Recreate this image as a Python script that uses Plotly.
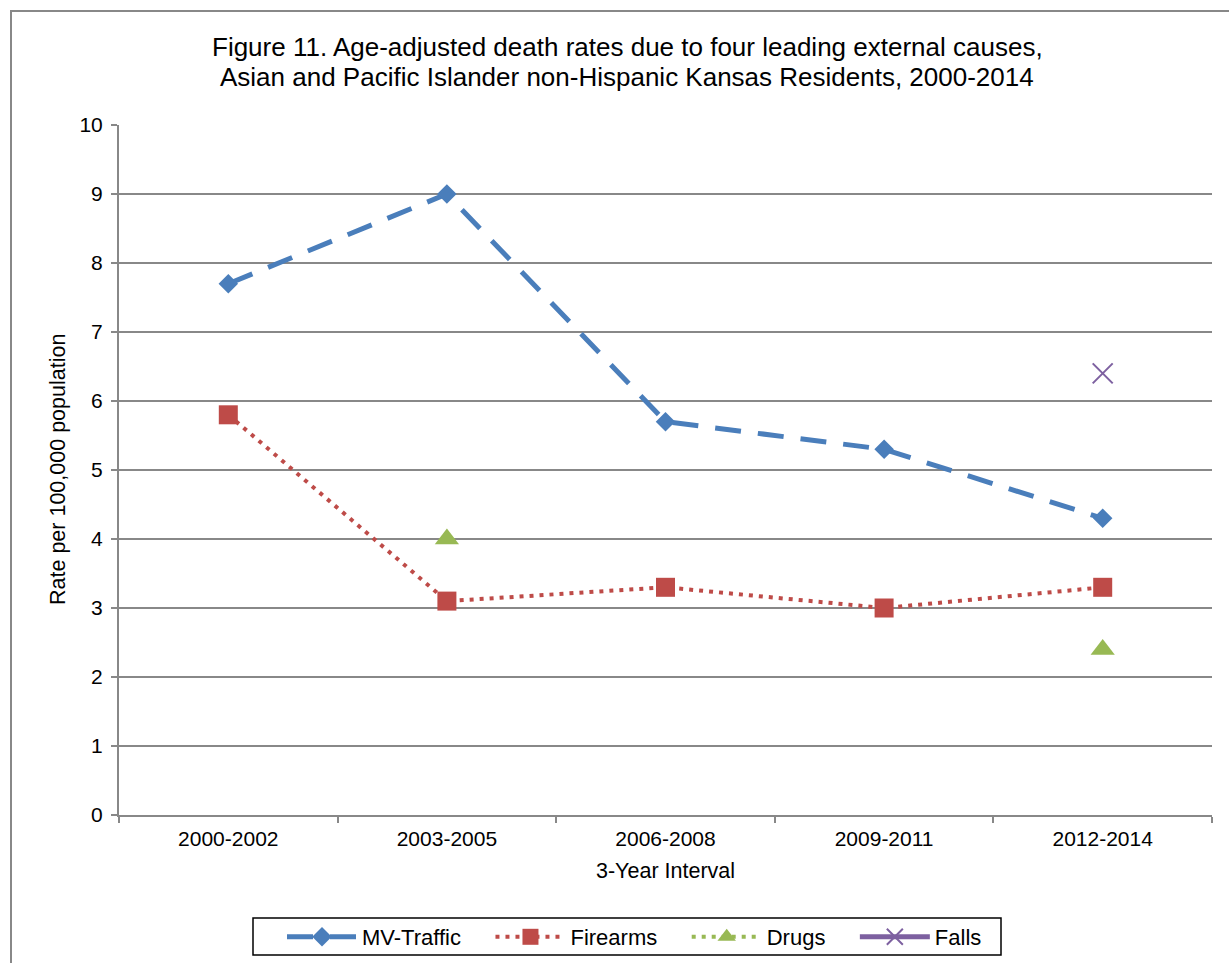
import plotly.graph_objects as go

# Three-year intervals on the x axis
intervals = ["2000-2002", "2003-2005", "2006-2008", "2009-2011", "2012-2014"]

# Age-adjusted death rates per 100,000 population
mv_traffic = [7.7, 9.0, 5.7, 5.3, 4.3]
firearms = [5.8, 3.1, 3.3, 3.0, 3.3]
drugs = [None, 4.0, None, None, 2.4]
falls = [None, None, None, None, 6.4]

y_ticks = list(range(0, 11))

title_lines = [
    "Figure 11. Age-adjusted death rates due to four leading external causes,",
    "Asian and Pacific Islander non-Hispanic Kansas Residents, 2000-2014",
]

W, H = 1229, 963
ML, MR, MT, MB = 119, 17, 125, 148
PW, PH = W - ML - MR, H - MT - MB


def px_x(px):
    return (px - ML) / PW


def px_y(py):
    return (H - MB - py) / PH


FONT = "Liberation Sans, Arial, sans-serif"
GRID = "#888888"
PAD = "\u00a0" * 4  # extra spacing after each legend label

fig = go.Figure()

fig.add_trace(go.Scatter(
    x=intervals, y=mv_traffic, name="MV-Traffic" + PAD, mode="lines+markers",
    line=dict(color="#4A7EBB", width=5, dash="26px,17px"),
    marker=dict(symbol="diamond", size=15, color="#4A7EBB"),
))
fig.add_trace(go.Scatter(
    x=intervals, y=firearms, name="Firearms" + PAD, mode="lines+markers",
    line=dict(color="#BE4B48", width=4, dash="4px,6px"),
    marker=dict(symbol="square", size=19, color="#BE4B48"),
))
fig.add_trace(go.Scatter(
    x=intervals, y=drugs, name="Drugs" + PAD, mode="lines+markers",
    line=dict(color="#98B954", width=4, dash="4px,6px"),
    marker=dict(symbol="triangle-up", size=21, color="#98B954"),
))
fig.add_trace(go.Scatter(
    x=intervals, y=falls, name="Falls", mode="lines+markers",
    line=dict(color="#7D60A0", width=5),
    marker=dict(symbol="x-thin-open", size=20,
                line=dict(color="#7D60A0", width=2)),
))

# two-line chart title, one annotation per line
title_annotations = [
    dict(text=line, x=px_x(627), y=px_y(cy), xref="paper", yref="paper",
         showarrow=False, xanchor="center", yanchor="middle",
         font=dict(family=FONT, size=26, color="#000000"))
    for line, cy in zip(title_lines, [47, 77])
]

fig.update_layout(
    width=W, height=H,
    margin=dict(l=ML, r=MR, t=MT, b=MB, autoexpand=False),
    paper_bgcolor="white", plot_bgcolor="white",
    font=dict(family=FONT, size=20, color="#000000"),
    xaxis=dict(
        type="category", categoryorder="array", categoryarray=intervals,
        range=[-0.5, 4.5], tickson="boundaries",
        ticks="outside", ticklen=6, tickwidth=2, tickcolor=GRID,
        showline=True, linecolor=GRID, linewidth=2,
        showgrid=False, zeroline=False, automargin=False,
        ticklabelstandoff=4,
        tickfont=dict(family=FONT, size=21, color="#000000"),
    ),
    yaxis=dict(
        range=[0, 10], tickvals=y_ticks, ticktext=[str(v) for v in y_ticks],
        ticks="outside", ticklen=6, tickwidth=2, tickcolor=GRID,
        showline=True, linecolor=GRID, linewidth=2,
        showgrid=True, gridcolor=GRID, gridwidth=2,
        zeroline=False, automargin=False, ticklabelstandoff=4,
        tickfont=dict(family=FONT, size=21, color="#000000"),
    ),
    legend=dict(
        orientation="h", x=px_x(282), xanchor="left",
        y=px_y(916), yanchor="top",
        borderwidth=0, bgcolor="rgba(0,0,0,0)",
        font=dict(family=FONT, size=22, color="#000000"),
        itemwidth=70,
    ),
    showlegend=True,
    annotations=title_annotations + [
        dict(text="3-Year Interval", x=px_x(665), y=px_y(871),
             xref="paper", yref="paper", showarrow=False,
             xanchor="center", yanchor="middle",
             font=dict(family=FONT, size=21.5, color="#000000")),
        dict(text="Rate per 100,000 population", x=px_x(58), y=px_y(470),
             xref="paper", yref="paper", showarrow=False, textangle=-90,
             xanchor="center", yanchor="middle",
             font=dict(family=FONT, size=21.5, color="#000000")),
    ],
    shapes=[
        # outer chart frame
        dict(type="rect", xref="paper", yref="paper",
             x0=px_x(11), x1=px_x(1245), y0=px_y(980), y1=px_y(11),
             line=dict(color="#888888", width=2), layer="below"),
        # legend frame
        dict(type="rect", xref="paper", yref="paper",
             x0=px_x(253), x1=px_x(1001), y0=px_y(955), y1=px_y(918),
             line=dict(color="#000000", width=1.5), fillcolor="white",
             layer="below"),
    ],
)

fig.write_html("out.html")
